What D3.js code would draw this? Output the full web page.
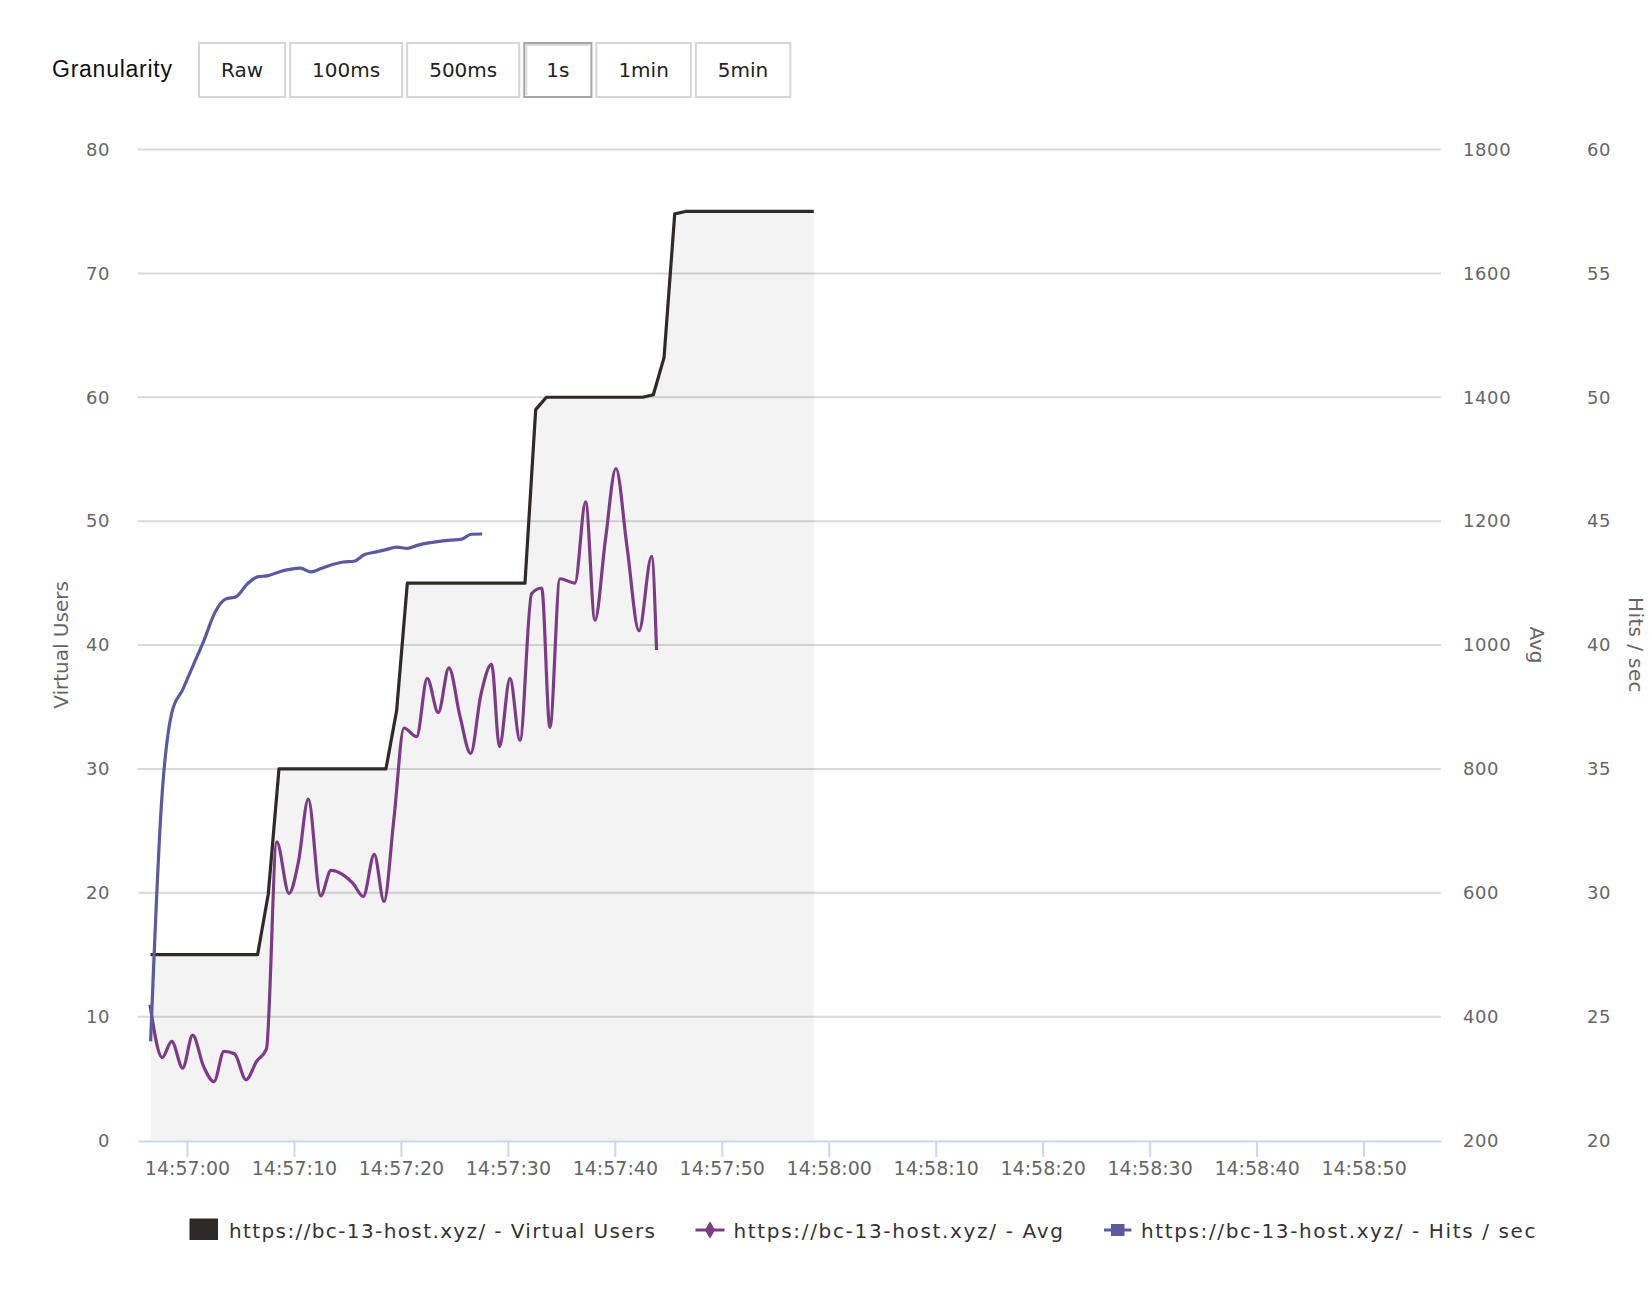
<!DOCTYPE html>
<html>
<head>
<meta charset="utf-8">
<script src="https://cdn.jsdelivr.net/npm/d3@7"></script>
<style>
  body { margin: 0; background: #fff; }
  svg { display: block; }
  text { font-family: "DejaVu Sans", sans-serif; }
</style>
</head>
<body>
<svg id="chart" width="1650" height="1303"></svg>
<script>
// granularity buttons
var granularity = ["Raw", "100ms", "500ms", "1s", "1min", "5min"];
var selectedGranularity = "1s";

// virtual users: one point per second, first one at 14:56:56.6
var vuStartSec = -3.4;
var virtualUsers = [
  15, 15, 15, 15, 15, 15, 15, 15, 15, 15, 15,
  19.9,
  30, 30, 30, 30, 30, 30, 30, 30, 30, 30, 30,
  34.7,
  45, 45, 45, 45, 45, 45, 45, 45, 45, 45, 45, 45,
  59,
  60, 60, 60, 60, 60, 60, 60, 60, 60, 60,
  60.2, 63.2, 74.8,
  75, 75, 75, 75, 75, 75, 75, 75, 75, 75, 75, 75, 75
];

// hits / sec, same timestamps as virtual users
var hitsPerSec = [
  24.0, 33.5, 37.3, 38.2, 39.2, 40.2, 41.3, 41.85, 41.95, 42.45, 42.75,
  42.8, 42.95, 43.05, 43.1, 42.95, 43.1, 43.25, 43.35, 43.38, 43.65,
  43.75, 43.85, 43.95, 43.9, 44.03, 44.12, 44.18, 44.23, 44.26, 44.47, 44.48
];

// avg response time, seconds relative to 14:57:00
var avgSec = [
  -3.46, -2.31, -1.43, -0.40, 0.53, 1.54, 2.52, 3.46, 4.44, 5.52, 6.52,
  7.43, 8.39, 9.54, 10.42, 11.34, 12.5, 13.46, 14.49, 15.52, 16.48,
  17.51, 18.42, 19.35, 20.29, 21.47, 22.46, 23.49, 24.49, 25.52, 26.52,
  27.48, 28.48, 29.21, 30.2, 31.13, 32.22, 33.16, 33.93, 34.87, 36.27,
  37.27, 38.14, 39.12, 40.1, 41.13, 42.26, 43.44, 43.9
];
var avgValues = [
  419, 334, 360, 317, 370, 320, 295, 344, 340, 298, 328,
  348, 682, 599, 650, 751, 595, 636, 630, 615, 594,
  662, 586, 720, 866, 852, 946, 891, 963, 885, 825,
  920, 969, 836, 946, 846, 1083, 1092, 867, 1107, 1100,
  1231, 1040, 1170, 1285, 1160, 1023, 1143, 992
];

var leftTicks = [0, 10, 20, 30, 40, 50, 60, 70, 80];
var avgTicks = [200, 400, 600, 800, 1000, 1200, 1400, 1600, 1800];
var hitsTicks = [20, 25, 30, 35, 40, 45, 50, 55, 60];

var seriesNames = [
  "https://bc-13-host.xyz/ - Virtual Users",
  "https://bc-13-host.xyz/ - Avg",
  "https://bc-13-host.xyz/ - Hits / sec"
];

var colors = { vu: "#2f2a27", avg: "#7c3b85", hits: "#5b5a9f" };

var base = new Date(2021, 0, 1, 14, 57, 0).getTime();
function T(s) { return new Date(base + s * 1000); }

var svg = d3.select("#chart");

// ---- header with granularity buttons
svg.append("text")
  .attr("x", 52).attr("y", 77)
  .attr("textLength", 120).attr("lengthAdjust", "spacing")
  .style("font-family", "'Liberation Sans', Arial, sans-serif")
  .style("font-size", "23px").attr("fill", "#111")
  .text("Granularity");

var bx = 199;
granularity.forEach(function (g) {
  var btn = svg.append("g");
  var t = btn.append("text")
    .attr("y", 77).attr("text-anchor", "middle")
    .style("font-size", "20px").attr("fill", "#222")
    .text(g);
  var w = t.node().getComputedTextLength() + 44;
  var sel = g === selectedGranularity;
  btn.insert("rect", "text")
    .attr("x", bx).attr("y", 43).attr("width", w).attr("height", 54)
    .attr("fill", "#fff")
    .attr("stroke", sel ? "#a6a6a6" : "#d6d6d6").attr("stroke-width", 2);
  if (sel) {
    btn.insert("path", "text")
      .attr("d", "M" + (bx + 2) + "," + 95 + "V45H" + (bx + w - 2))
      .attr("fill", "none").attr("stroke", "#dcdcdc").attr("stroke-width", 2);
  }
  t.attr("x", bx + w / 2);
  bx += w + 5;
});

// ---- scales
var x = d3.scaleTime().domain([T(-4.58), T(117.24)]).range([138, 1441]);
var yLeft = d3.scaleLinear().domain([0, 80]).range([1140.5, 149.5]);
var yAvg = d3.scaleLinear().domain([200, 1800]).range([1140.5, 149.5]);
var yHits = d3.scaleLinear().domain([20, 60]).range([1140.5, 149.5]);

// ---- grid
svg.append("g").selectAll("line")
  .data(leftTicks.filter(function (d) { return d > 0; }))
  .join("line")
  .attr("x1", 138).attr("x2", 1441)
  .attr("y1", function (d) { return yLeft(d); })
  .attr("y2", function (d) { return yLeft(d); })
  .attr("stroke", "#d9d9d9").attr("stroke-width", 2);

// ---- series
var vuData = virtualUsers.map(function (v, i) { return { t: T(vuStartSec + i), v: v }; });
var hitsData = hitsPerSec.map(function (v, i) { return { t: T(vuStartSec + i), v: v }; });
var avgData = avgValues.map(function (v, i) { return { t: T(avgSec[i]), v: v }; });

svg.append("path")
  .datum(vuData)
  .attr("fill", colors.vu).attr("fill-opacity", 0.055)
  .attr("d", d3.area()
    .x(function (d) { return x(d.t); })
    .y0(yLeft(0))
    .y1(function (d) { return yLeft(d.v); }));

svg.append("path")
  .datum(vuData)
  .attr("fill", "none").attr("stroke", colors.vu).attr("stroke-width", 3.2)
  .attr("stroke-linejoin", "round")
  .attr("d", d3.line()
    .x(function (d) { return x(d.t); })
    .y(function (d) { return yLeft(d.v); }));

svg.append("path")
  .datum(avgData)
  .attr("fill", "none").attr("stroke", colors.avg).attr("stroke-width", 3.2)
  .attr("d", d3.line().curve(d3.curveMonotoneX)
    .x(function (d) { return x(d.t); })
    .y(function (d) { return yAvg(d.v); }));

svg.append("path")
  .datum(hitsData)
  .attr("fill", "none").attr("stroke", colors.hits).attr("stroke-width", 3.2)
  .attr("d", d3.line().curve(d3.curveMonotoneX)
    .x(function (d) { return x(d.t); })
    .y(function (d) { return yHits(d.v); }));

// ---- axes
var xAxis = svg.append("g")
  .attr("transform", "translate(0,1141)")
  .call(d3.axisBottom(x)
    .ticks(d3.timeSecond.every(10))
    .tickFormat(d3.timeFormat("%H:%M:%S"))
    .tickSize(16).tickSizeOuter(0));
xAxis.select(".domain").attr("stroke", "#ccd6eb").attr("stroke-width", 2);
xAxis.selectAll(".tick line").attr("stroke", "#ccd6eb").attr("stroke-width", 2);
xAxis.selectAll(".tick text")
  .attr("y", 33.5).attr("dy", 0)
  .attr("fill", "#666").style("font-size", "19px")
  .style("font-family", "'DejaVu Sans', sans-serif");

function styleY(g) {
  g.select(".domain").remove();
  g.selectAll(".tick line").remove();
  g.selectAll(".tick text")
    .attr("fill", "#666").style("font-size", "18px")
    .style("font-family", "'DejaVu Sans', sans-serif")
    .style("letter-spacing", "0.6px");
}

svg.append("g").attr("transform", "translate(138,0)")
  .call(d3.axisLeft(yLeft).tickValues(leftTicks).tickSize(0).tickPadding(28))
  .call(styleY);

svg.append("g").attr("transform", "translate(1441,0)")
  .call(d3.axisRight(yAvg).tickValues(avgTicks).tickFormat(d3.format("d"))
    .tickSize(0).tickPadding(22))
  .call(styleY);

svg.append("g").attr("transform", "translate(1441,0)")
  .call(d3.axisRight(yHits).tickValues(hitsTicks).tickSize(0).tickPadding(146))
  .call(styleY);

// axis titles
svg.append("text")
  .attr("transform", "translate(68,645) rotate(-90)")
  .attr("text-anchor", "middle").attr("fill", "#666")
  .style("font-size", "20px")
  .text("Virtual Users");

svg.append("text")
  .attr("transform", "translate(1530,645) rotate(90)")
  .attr("text-anchor", "middle").attr("fill", "#666")
  .style("font-size", "20px")
  .text("Avg");

svg.append("text")
  .attr("transform", "translate(1629,645) rotate(90)")
  .attr("text-anchor", "middle").attr("fill", "#666")
  .style("font-size", "20px").style("letter-spacing", "0.4px")
  .text("Hits / sec");

// ---- legend
var legend = svg.append("g");
var ly = 1230;

legend.append("rect")
  .attr("x", 189.5).attr("y", ly - 11.5).attr("width", 28.5).attr("height", 21.5)
  .attr("fill", colors.vu);
legend.append("text").attr("x", 229).attr("y", ly + 7.5)
  .attr("textLength", 426).attr("lengthAdjust", "spacing")
  .attr("fill", "#333").style("font-size", "20px")
  .text(seriesNames[0]);

legend.append("line")
  .attr("x1", 695.5).attr("x2", 724.5).attr("y1", ly).attr("y2", ly)
  .attr("stroke", colors.avg).attr("stroke-width", 3);
legend.append("path")
  .attr("d", d3.symbol().type(d3.symbolDiamond).size(90)())
  .attr("transform", "translate(710," + ly + ")")
  .attr("fill", colors.avg);
legend.append("text").attr("x", 733.5).attr("y", ly + 7.5)
  .attr("textLength", 329.5).attr("lengthAdjust", "spacing")
  .attr("fill", "#333").style("font-size", "20px")
  .text(seriesNames[1]);

legend.append("line")
  .attr("x1", 1104).attr("x2", 1131.5).attr("y1", ly).attr("y2", ly)
  .attr("stroke", colors.hits).attr("stroke-width", 3);
legend.append("rect")
  .attr("x", 1111).attr("y", ly - 6).attr("width", 13.5).attr("height", 12)
  .attr("fill", colors.hits);
legend.append("text").attr("x", 1141).attr("y", ly + 7.5)
  .attr("textLength", 394.5).attr("lengthAdjust", "spacing")
  .attr("fill", "#333").style("font-size", "20px")
  .text(seriesNames[2]);
</script>
</body>
</html>
